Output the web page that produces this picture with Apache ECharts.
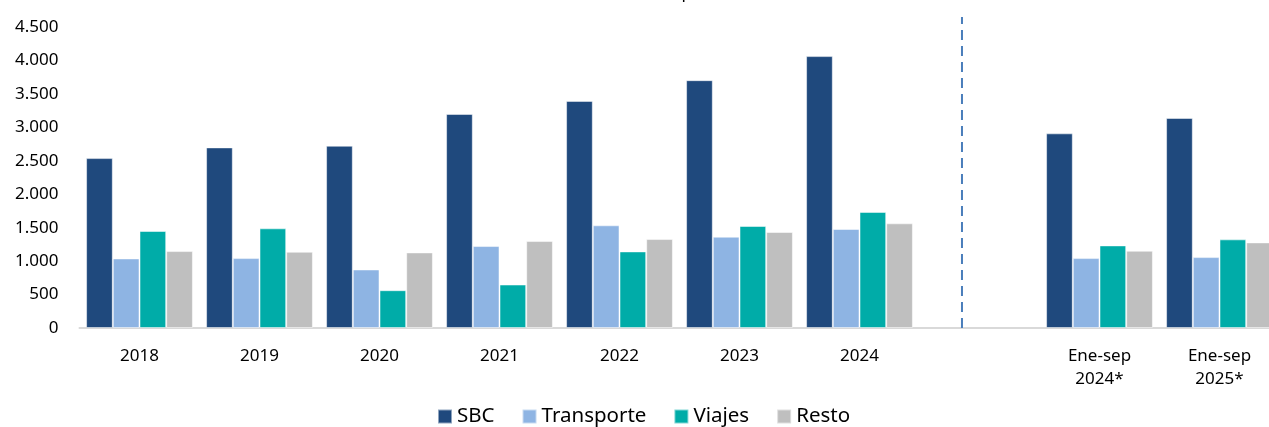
<!DOCTYPE html>
<html>
<head>
<meta charset="utf-8">
<script src="https://cdn.jsdelivr.net/npm/echarts@6/dist/echarts.min.js"></script>
<style>
  html, body { margin: 0; padding: 0; background: #fff; overflow: hidden; }
  #chart { width: 1269px; height: 427px; }
</style>
</head>
<body>
<div id="chart"></div>
<script>
var categories = ['2018', '2019', '2020', '2021', '2022', '2023', '2024', '', 'Ene-sep\n2024*', 'Ene-sep\n2025*']
var sbc = [2540, 2700, 2725, 3200, 3395, 3705, 4065, null, 2910, 3140]
var transporte = [1040, 1045, 875, 1225, 1535, 1365, 1480, null, 1045, 1060]
var viajes = [1450, 1490, 565, 650, 1145, 1525, 1735, null, 1235, 1325]
var resto = [1150, 1140, 1130, 1300, 1330, 1435, 1565, null, 1155, 1280]
// separador entre anuales y acumulados (en unidades del eje oculto 0-10)
var separador = [[7.354, 0], [7.354, 4650]]

var font = 'Noto Sans'
var chart = echarts.init(document.getElementById('chart'))

function barSerie(name, data, color) {
  return {
    name: name,
    type: 'bar',
    data: data,
    barGap: '0%',
    barCategoryGap: '11%',
    itemStyle: {
      color: color,
      borderColor: 'rgba(255,255,255,0.5)',
      borderWidth: 1
    },
    animation: false
  }
}

chart.setOption({
  title: {
    text: 'Millones de US$, promedio anual 2018-2025',
    left: 545,
    top: -15,
    padding: 0,
    textStyle: { fontFamily: font, fontSize: 17, fontWeight: 'normal', color: '#000' }
  },
  legend: {
    data: ['SBC', 'Transporte', 'Viajes', 'Resto'],
    left: 437,
    bottom: 0,
    padding: 0,
    itemWidth: 14,
    itemHeight: 14,
    itemGap: 27,
    icon: 'rect',
    textStyle: { fontFamily: font, fontSize: 20.5, color: '#000' }
  },
  grid: {
    left: 79.5,
    width: 1200,
    top: 27,
    bottom: 99,
    containLabel: false,
    outerBoundsMode: 'none'
  },
  xAxis: [
    {
      type: 'category',
      data: categories,
      axisLine: { lineStyle: { color: '#d9d9d9', width: 2 } },
      axisTick: { show: false },
      axisLabel: {
        fontFamily: font,
        fontSize: 17,
        color: '#000',
        margin: 17,
        lineHeight: 23,
        interval: 0
      }
    },
    {
      type: 'value',
      min: 0,
      max: 10,
      show: false
    }
  ],
  yAxis: [
    {
      type: 'value',
      min: 0,
      max: 4500,
      interval: 500,
      splitLine: { show: false },
      axisLine: { show: false },
      axisTick: { show: false },
      axisLabel: {
        fontFamily: font,
        fontSize: 17,
        color: '#000',
        margin: 21,
        formatter: function (v) {
          return String(v).replace(/\B(?=(\d{3})+(?!\d))/g, '.')
        }
      }
    },
    {
      type: 'value',
      min: 0,
      max: 4500,
      show: false
    }
  ],
  series: [
    barSerie('SBC', sbc, '#1f497d'),
    barSerie('Transporte', transporte, '#8eb4e3'),
    barSerie('Viajes', viajes, '#00aca8'),
    barSerie('Resto', resto, '#bfbfbf'),
    {
      name: 'separador',
      type: 'line',
      xAxisIndex: 1,
      yAxisIndex: 1,
      data: separador,
      symbol: 'none',
      clip: false,
      lineStyle: { color: '#4a7ebb', width: 2, type: [10, 6] },
      animation: false
    }
  ]
})
</script>
</body>
</html>
